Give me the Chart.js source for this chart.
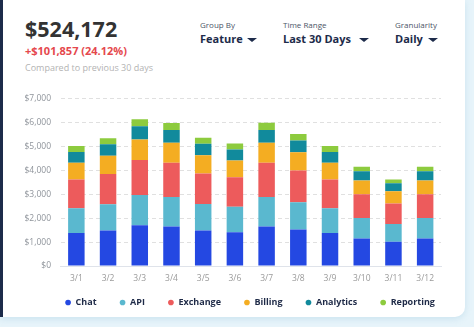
<!DOCTYPE html>
<html>
<head>
<meta charset="utf-8">
<script src="https://cdn.jsdelivr.net/npm/chart.js@4.4.1/dist/chart.umd.min.js"></script>
<style>
  html, body { margin: 0; padding: 0; width: 474px; height: 327px; overflow: hidden; background: #e7f4fa; font-family: "Open Sans", sans-serif; }
  .card { position: absolute; left: 0; top: 0; width: 465px; height: 317px; background: #fff; border-bottom-right-radius: 10px; box-shadow: 0 2px 6px rgba(120,180,210,0.25); }
  .strip { position: absolute; left: 0; top: 0; width: 3px; height: 317px; background: #1c2b4a; }
  .t { position: absolute; white-space: nowrap; line-height: 1; }
  .total { left: 25px; top: 18px; font-size: 21.5px; font-weight: 700; color: #333; }
  .delta { left: 25px; top: 45px; font-size: 11px; font-weight: 700; color: #e5484d; }
  .note { left: 25px; top: 62.5px; font-size: 9px; color: #b3b3b3; }
  .lab { font-size: 8px; color: #4b5567; top: 21px; }
  .sel { font-size: 11px; font-weight: 700; color: #1d2b4a; top: 32.5px; }
  .caret { position: absolute; width: 0; height: 0; border-left: 5px solid transparent; border-right: 5px solid transparent; border-top: 4px solid #1d2b4a; top: 38px; }
  #chart { position: absolute; left: 20px; top: 84px; }
</style>
</head>
<body>
<div class="card"></div>
<div class="strip"></div>
<div class="t total">$524,172</div>
<div class="t delta">+$101,857 (24.12%)</div>
<div class="t note">Compared to previous 30 days</div>

<div class="t lab" style="left:200px">Group By</div>
<div class="t sel" style="left:200px">Feature</div>
<div class="caret" style="left:247px"></div>

<div class="t lab" style="left:283px">Time Range</div>
<div class="t sel" style="left:283px">Last 30 Days</div>
<div class="caret" style="left:359px"></div>

<div class="t lab" style="left:395px">Granularity</div>
<div class="t sel" style="left:395px">Daily</div>
<div class="caret" style="left:428px"></div>

<canvas id="chart" width="460" height="233"></canvas>

<script>
// Daily revenue per feature, in dollars
const days = ['3/1', '3/2', '3/3', '3/4', '3/5', '3/6', '3/7', '3/8', '3/9', '3/10', '3/11', '3/12'];
const chat      = [1380, 1480, 1700, 1650, 1480, 1410, 1650, 1530, 1380, 1150, 1010, 1150];
const api       = [1040, 1100, 1270, 1240, 1110, 1070, 1240, 1140, 1040,  860,  750,  860];
const exchange  = [1200, 1270, 1460, 1430, 1280, 1230, 1430, 1320, 1200,  990,  850,  990];
const billing   = [ 700,  760,  860,  830,  760,  700,  830,  770,  700,  580,  520,  580];
const analytics = [ 450,  480,  550,  540,  480,  460,  540,  490,  450,  380,  330,  380];
const reporting = [ 250,  250,  300,  290,  250,  250,  300,  270,  250,  190,  160,  190];

const seriesNames  = ['Chat', 'API', 'Exchange', 'Billing', 'Analytics', 'Reporting'];
const seriesValues = [chat, api, exchange, billing, analytics, reporting];
const seriesColors = ['#2448e2', '#5ab8cf', '#ed5b5c', '#f4ad22', '#118a9c', '#8dcb3e'];

const yMax = 7000;
const yStep = 1000;

const datasets = seriesNames.map((name, i) => ({
  label: name,
  data: seriesValues[i],
  backgroundColor: seriesColors[i],
  borderWidth: 0,
  pointStyle: 'circle',
  categoryPercentage: 1,
  barPercentage: 0.52
}));

new Chart(document.getElementById('chart'), {
  type: 'bar',
  data: { labels: days, datasets },
  options: {
    responsive: false,
    animation: false,
    layout: { padding: { top: 13, left: 0, right: 0, bottom: 0 } },
    plugins: {
      tooltip: { enabled: false },
      legend: {
        position: 'bottom',
        // empty title with negative padding pulls the legend row up closer to the axis
        title: { display: true, text: '', font: { size: 1, lineHeight: 1 }, padding: { top: 0, bottom: -10 } },
        labels: {
          usePointStyle: true,
          boxWidth: 6,
          boxHeight: 4,
          padding: 23,
          color: '#1e2a47',
          font: { family: 'Open Sans', size: 9, weight: '700' }
        }
      }
    },
    scales: {
      x: {
        stacked: true,
        grid: { display: false, drawTicks: false },
        border: { display: true, color: '#dfe3ea', width: 1 },
        ticks: { color: '#9a9a9a', padding: 7.5, font: { family: 'Open Sans', size: 8.5 } },
        afterFit: (s) => { s.height = 18; }
      },
      y: {
        stacked: true,
        min: 0,
        max: yMax,
        grid: { color: '#e0e0e0', drawTicks: false },
        border: { display: false, dash: [4, 3] },
        ticks: {
          stepSize: yStep,
          padding: 9.5,
          color: '#8f949b',
          font: { family: 'Open Sans', size: 8.5 },
          callback: (v) => '$' + v.toLocaleString('en-US')
        },
        afterFit: (s) => { s.width = 40.5; }
      },
      yRight: {
        position: 'right',
        display: true,
        min: 0,
        max: 1,
        grid: { display: false, drawTicks: false },
        border: { display: false },
        ticks: { display: false },
        afterFit: (s) => { s.width = 39; }
      }
    }
  }
});
</script>
</body>
</html>
